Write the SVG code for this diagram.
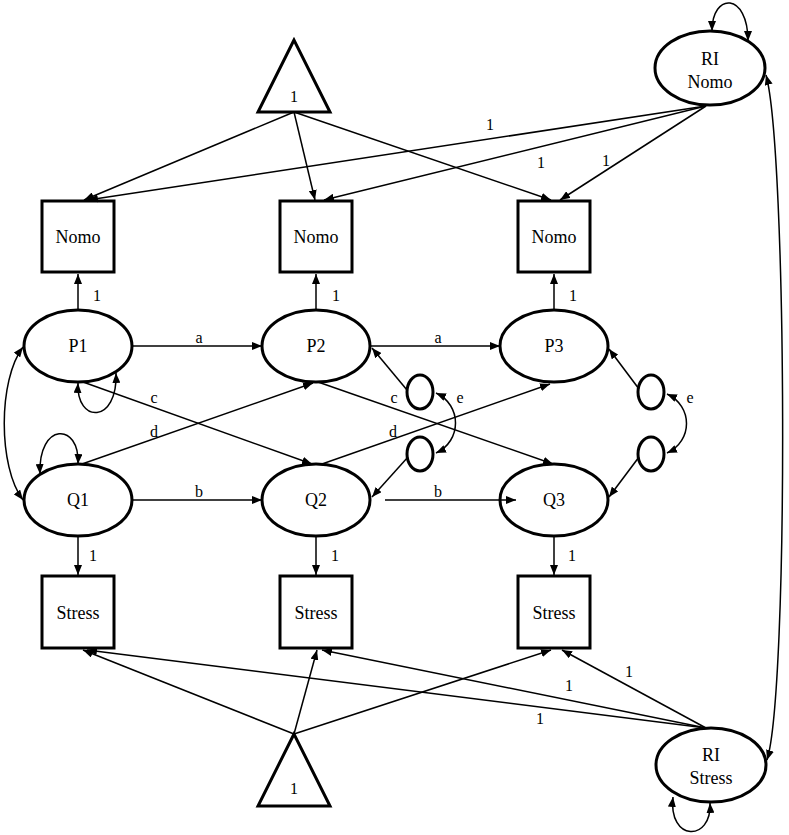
<svg xmlns="http://www.w3.org/2000/svg" width="789" height="835" viewBox="0 0 789 835">
<style>
.n{fill:#fff;stroke:#000;stroke-width:3}
.t{font-family:"Liberation Serif","Times New Roman",serif;font-size:18px;fill:#000;text-anchor:middle}
.l{font-family:"Liberation Serif","Times New Roman",serif;font-size:16px;fill:#000;text-anchor:middle}
.c{fill:none;stroke:#000;stroke-width:1.5}
.a{marker-end:url(#ah)}
.d{marker-start:url(#ah);marker-end:url(#ah)}
</style>
<defs>
<marker id="ah" viewBox="0 0 10 8" refX="10" refY="4" markerWidth="10" markerHeight="8" markerUnits="userSpaceOnUse" orient="auto-start-reverse"><path d="M0,0 L10,4 L0,8 z" fill="#000"/></marker>
</defs>
<rect x="0" y="0" width="789" height="835" fill="#fff"/>
<g id="tri_top"><path class="n" d="M294 40 L258 112 L330 112 Z"/><text class="l" x="294" y="102">1</text></g>
<g id="tri_bottom"><path class="n" d="M294 734 L258 806 L330 806 Z"/><text class="l" x="294" y="794">1</text></g>
<g id="ri_nomo"><ellipse class="n" cx="710" cy="68" rx="55" ry="37"/><text class="t" x="710" y="65">RI</text><text class="t" x="710" y="88">Nomo</text></g>
<g id="ri_stress"><ellipse class="n" cx="711" cy="765" rx="55" ry="37"/><text class="t" x="711" y="761">RI</text><text class="t" x="711" y="784">Stress</text></g>
<g id="nomo1"><rect class="n" x="42" y="201" width="72" height="71"/><text class="t" x="78" y="243">Nomo</text></g>
<g id="nomo2"><rect class="n" x="280" y="201" width="72" height="71"/><text class="t" x="316" y="243">Nomo</text></g>
<g id="nomo3"><rect class="n" x="518" y="201" width="72" height="71"/><text class="t" x="554" y="243">Nomo</text></g>
<g id="stress1"><rect class="n" x="42" y="576" width="72" height="72"/><text class="t" x="78" y="619">Stress</text></g>
<g id="stress2"><rect class="n" x="280" y="576" width="72" height="72"/><text class="t" x="316" y="619">Stress</text></g>
<g id="stress3"><rect class="n" x="518" y="576" width="72" height="72"/><text class="t" x="554" y="619">Stress</text></g>
<g id="P1"><ellipse class="n" cx="78" cy="346" rx="54" ry="36"/><text class="t" x="78" y="352">P1</text></g>
<g id="P2"><ellipse class="n" cx="316" cy="346" rx="54" ry="36"/><text class="t" x="316" y="352">P2</text></g>
<g id="P3"><ellipse class="n" cx="554" cy="346" rx="54" ry="36"/><text class="t" x="554" y="352">P3</text></g>
<g id="Q1"><ellipse class="n" cx="78" cy="500" rx="54" ry="36"/><text class="t" x="78" y="506">Q1</text></g>
<g id="Q2"><ellipse class="n" cx="316" cy="500" rx="54" ry="36"/><text class="t" x="316" y="506">Q2</text></g>
<g id="Q3"><ellipse class="n" cx="554" cy="500" rx="54" ry="36"/><text class="t" x="554" y="506">Q3</text></g>
<g id="e_p2"><ellipse class="n" cx="420" cy="392" rx="13" ry="17"/></g>
<g id="e_q2"><ellipse class="n" cx="420" cy="454" rx="13" ry="17"/></g>
<g id="e_p3"><ellipse class="n" cx="651" cy="392" rx="13" ry="17"/></g>
<g id="e_q3"><ellipse class="n" cx="651" cy="454" rx="13" ry="17"/></g>
<g id="connectors">
<path class="c a" d="M294 112 L84 200"/>
<path class="c a" d="M294 112 L315 200"/>
<path class="c a" d="M294 112 L551 200"/>
<path class="c a" d="M706 106 L88 200"/>
<path class="c a" d="M706 106 L324 200"/>
<path class="c a" d="M706 106 L560 200"/>
<path class="c a" d="M78 310 L78 274"/>
<path class="c a" d="M316 310 L316 274"/>
<path class="c a" d="M554 310 L554 274"/>
<path class="c a" d="M78 536 L78 575"/>
<path class="c a" d="M316 536 L316 575"/>
<path class="c a" d="M554 536 L554 575"/>
<path class="c a" d="M294 734 L83 650"/>
<path class="c a" d="M294 734 L317 650"/>
<path class="c a" d="M294 734 L551 650"/>
<path class="c a" d="M706 728 L87 650"/>
<path class="c a" d="M706 728 L322 650"/>
<path class="c a" d="M706 728 L562 650"/>
<path class="c a" d="M132 346 L262 346"/>
<path class="c a" d="M370 346 L500 346"/>
<path class="c a" d="M132 500 L262 500"/>
<path class="c a" d="M385 500 L516 500"/>
<path class="c a" d="M83 382 L312 464"/>
<path class="c a" d="M82 464 L313 383"/>
<path class="c a" d="M318 382 L553 464"/>
<path class="c a" d="M322 464 L550 384"/>
<path class="c a" d="M407 390 L372 348"/>
<path class="c a" d="M408 457 L372 497"/>
<path class="c a" d="M639 389 L609 349"/>
<path class="c a" d="M639 457 L609 497"/>
<path class="c d" d="M436 393 C462 405 462 441 436 453"/>
<path class="c d" d="M667 394 C693 406 693 441 667 453"/>
<path class="c d" d="M23 347 C-2 380 -2 467 23 500"/>
<path class="c d" d="M766 75 C787 150 789 690 767 760"/>
<path class="c d" d="M78 383 C76 424 118 424 116 373"/>
<path class="c d" d="M40 474 C38 422 80 422 78 464"/>
<path class="c d" d="M712 31 C712 -8 748 -8 748 41"/>
<path class="c d" d="M673 797 C668 842 712 842 710 803"/>
<text class="l" x="490" y="130">1</text>
<text class="l" x="541" y="168">1</text>
<text class="l" x="606" y="166">1</text>
<text class="l" x="97" y="301">1</text>
<text class="l" x="336" y="301">1</text>
<text class="l" x="573" y="301">1</text>
<text class="l" x="93" y="561">1</text>
<text class="l" x="335" y="561">1</text>
<text class="l" x="572" y="561">1</text>
<text class="l" x="629" y="677">1</text>
<text class="l" x="569" y="691">1</text>
<text class="l" x="540" y="724">1</text>
<text class="l" x="199" y="343">a</text>
<text class="l" x="438" y="343">a</text>
<text class="l" x="199" y="497">b</text>
<text class="l" x="438" y="497">b</text>
<text class="l" x="154" y="403">c</text>
<text class="l" x="394" y="403">c</text>
<text class="l" x="154" y="437">d</text>
<text class="l" x="393" y="437">d</text>
<text class="l" x="460" y="403">e</text>
<text class="l" x="690" y="403">e</text>
</g>
</svg>
